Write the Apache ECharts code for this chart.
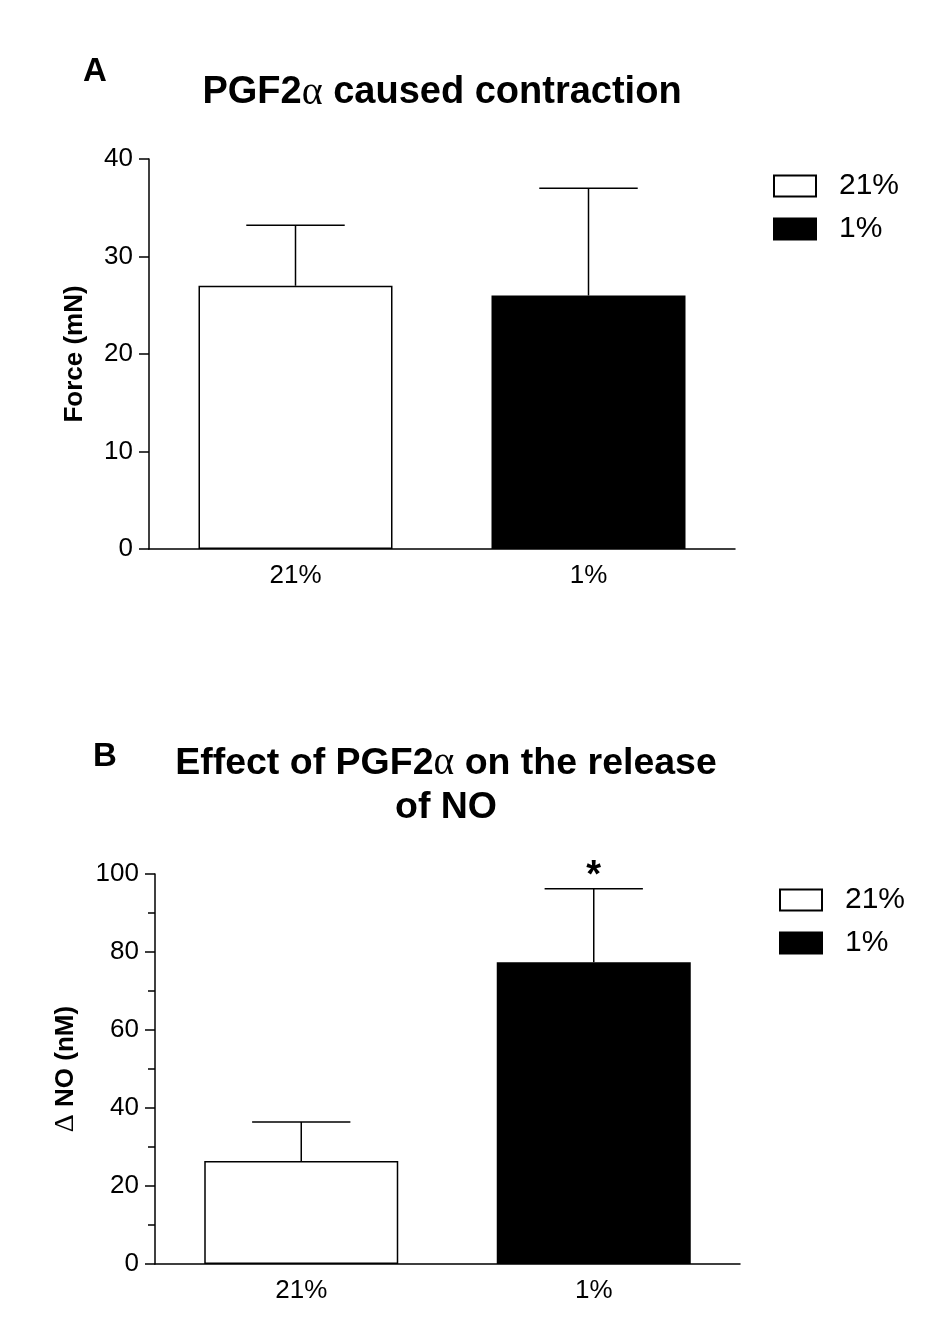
<!DOCTYPE html>
<html>
<head>
<meta charset="utf-8">
<script src="https://cdn.jsdelivr.net/npm/echarts@6/dist/echarts.min.js"></script>
<style>
  html, body { margin: 0; padding: 0; background: #fff; }
  #main { width: 952px; height: 1340px; }
</style>
</head>
<body>
<div id="main"></div>
<script>
// groups (oxygen level)
var categories = ['21%', '1%'];
// panel A: PGF2a caused contraction, mean and SEM (mN)
var forceMean = [27.0, 26.0];
var forceSem = [6.2, 11.0];
// panel B: release of NO, mean and SEM (nM)
var noMean = [26.4, 77.4];
var noSem = [10.0, 18.8];
var noMarks = ['', '*'];

var FONT = '"Liberation Sans", Arial, sans-serif';
var SERIF = '"Liberation Serif", "DejaVu Serif", serif';

var myChart = echarts.init(document.getElementById('main'));

function onlyAt(values, idx) {
  return values.map(function (v, i) { return i === idx ? v : '-'; });
}

function barSeries(gridIdx, values) {
  return [
    {
      name: '21%', type: 'bar', xAxisIndex: gridIdx, yAxisIndex: gridIdx,
      data: onlyAt(values, 0), barWidth: 194, barGap: '-100%',
      itemStyle: { color: '#fff', borderColor: '#000', borderWidth: 1.5 }
    },
    {
      name: '1%', type: 'bar', xAxisIndex: gridIdx, yAxisIndex: gridIdx,
      data: onlyAt(values, 1), barWidth: 194, barGap: '-100%',
      itemStyle: { color: '#000', borderColor: '#000', borderWidth: 1.5 }
    }
  ];
}

function errorSeries(gridIdx, means, sems, marks) {
  return {
    type: 'custom', xAxisIndex: gridIdx, yAxisIndex: gridIdx, z: 5,
    data: means.map(function (m, i) { return [i, m, m + sems[i]]; }),
    renderItem: function (params, api) {
      var base = api.coord([api.value(0), api.value(1)]);
      var top = api.coord([api.value(0), api.value(2)]);
      var half = api.size([1, 0])[0] * 0.168;
      var st = { stroke: '#000', lineWidth: 1.5 };
      var kids = [
        { type: 'line', shape: { x1: top[0], y1: base[1], x2: top[0], y2: top[1] }, style: st },
        { type: 'line', shape: { x1: top[0] - half, y1: top[1], x2: top[0] + half, y2: top[1] }, style: st }
      ];
      var mark = marks ? marks[params.dataIndex] : '';
      if (mark) {
        kids.push({
          type: 'text',
          style: {
            text: mark, x: top[0], y: top[1] + 7, align: 'center', verticalAlign: 'bottom',
            font: 'bold 38px ' + FONT, fill: '#000'
          }
        });
      }
      return { type: 'group', children: kids };
    }
  };
}

function xAxis(gridIdx) {
  return {
    type: 'category', gridIndex: gridIdx, data: categories,
    axisLine: { lineStyle: { color: '#000', width: 1.5 } },
    axisTick: { show: false },
    axisLabel: { color: '#000', fontSize: 26, fontFamily: FONT, margin: 14 }
  };
}

function yAxis(gridIdx, max, interval, name, nameGap, minor) {
  return {
    type: 'value', gridIndex: gridIdx, min: 0, max: max, interval: interval,
    name: name, nameLocation: 'middle', nameGap: nameGap, nameRotate: 90,
    nameTextStyle: {
      color: '#000', fontSize: 26, fontWeight: 'bold', fontFamily: FONT,
      rich: { d: { fontFamily: SERIF, fontWeight: 'normal', fontSize: 28, color: '#000' } }
    },
    axisLine: { show: true, lineStyle: { color: '#000', width: 1.5 } },
    axisTick: { show: true, length: 10, lineStyle: { color: '#000', width: 1.5 } },
    minorTick: { show: minor, splitNumber: 2, length: 7, lineStyle: { color: '#000', width: 1.5 } },
    splitLine: { show: false },
    axisLabel: { color: '#000', fontSize: 26, fontFamily: FONT, margin: 16 }
  };
}

function titleRich(size) {
  return {
    fontFamily: FONT, fontWeight: 'bold', fontSize: size, color: '#000',
    rich: { a: { fontFamily: SERIF, fontWeight: 'normal', fontSize: size + 2, color: '#000' } }
  };
}

function legend(left, top) {
  return {
    left: left, top: top, orient: 'vertical', icon: 'rect',
    itemWidth: 42, itemHeight: 21, itemGap: 13,
    data: ['21%', '1%'],
    textStyle: { color: '#000', fontSize: 30, fontFamily: FONT, padding: [0, 0, 0, 18] }
  };
}

var option = {
  animation: false,
  backgroundColor: '#fff',
  title: [
    { text: 'A', left: 78, top: 50, textStyle: { fontFamily: FONT, fontWeight: 'bold', fontSize: 33, color: '#000' } },
    { text: 'PGF2{a|α} caused contraction', left: 437, top: 68, textAlign: 'center', textStyle: titleRich(38) },
    { text: 'B', left: 88, top: 735, textStyle: { fontFamily: FONT, fontWeight: 'bold', fontSize: 33, color: '#000' } },
    { text: 'Effect of PGF2{a|α} on the release\nof NO', left: 441, top: 737, textAlign: 'center',
      textStyle: Object.assign(titleRich(37.5), { lineHeight: 44 }) }
  ],
  legend: [legend(768, 166), legend(774, 880)],
  grid: [
    { left: 149, right: 217, top: 159, height: 390 },
    { left: 155, right: 212, top: 874, height: 390 }
  ],
  xAxis: [xAxis(0), xAxis(1)],
  yAxis: [
    yAxis(0, 40, 10, 'Force (mN)', 61, false),
    yAxis(1, 100, 20, '{d|Δ} NO (nM)', 75, true)
  ],
  series: []
    .concat(barSeries(0, forceMean))
    .concat([errorSeries(0, forceMean, forceSem, null)])
    .concat(barSeries(1, noMean))
    .concat([errorSeries(1, noMean, noSem, noMarks)])
};

myChart.setOption(option);
</script>
</body>
</html>
